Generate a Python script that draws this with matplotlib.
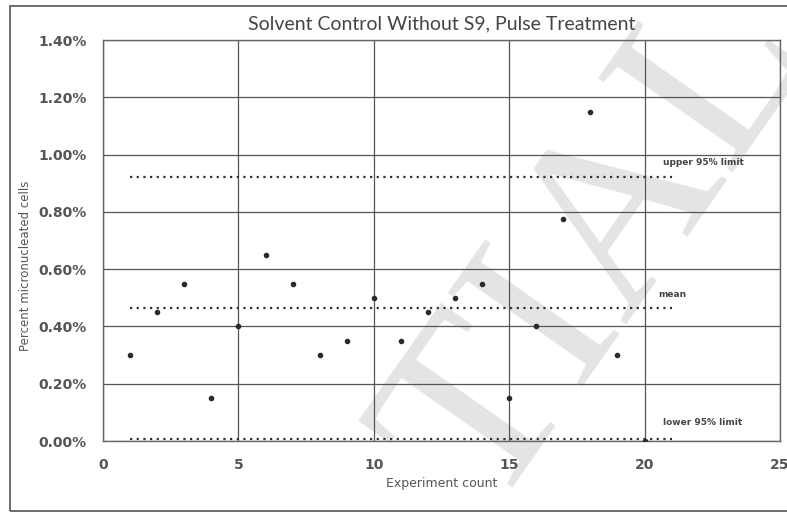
import numpy as np
from matplotlib import pyplot as plt
from matplotlib.patches import Rectangle
from matplotlib.ticker import FuncFormatter

# Experiment data (percent micronucleated cells)
experiments = [1, 2, 3, 4, 5, 6, 7, 8, 9, 10,
               11, 12, 13, 14, 15, 16, 17, 18, 19, 20]
percent_mn = [0.30, 0.45, 0.55, 0.15, 0.40, 0.65, 0.55, 0.30, 0.35, 0.50,
              0.35, 0.45, 0.50, 0.55, 0.15, 0.40, 0.775, 1.15, 0.30, 0.00]

limit_x = [1, 21]
upper_limit = 0.921
mean_value = 0.464
lower_limit = 0.007

fig = plt.figure(figsize=(7.87, 5.14), dpi=100)
ax = fig.add_axes([0.131, 0.142, 0.860, 0.780])

# faint watermark behind everything
fig.text(0.765, 0.52, "TIAL", fontsize=180, family="Liberation Serif",
         color="#e4e4e4", rotation=55, ha="center", va="center",
         rotation_mode="anchor", zorder=-1)
ax.set_facecolor("none")

# outer border of the chart area
fig.patches.append(Rectangle((0.013, 0.006), 0.99, 0.983,
                             transform=fig.transFigure, fill=False,
                             edgecolor="#555555", lw=1.2))

ax.plot(limit_x, [upper_limit] * 2, ls=(0, (1, 2)), color="#333333", lw=1.6)
ax.plot(limit_x, [mean_value] * 2, ls=(0, (1, 2)), color="#333333", lw=1.6)
ax.plot(limit_x, [lower_limit] * 2, ls=(0, (1, 2)), color="#333333", lw=1.6)
ax.scatter(experiments, percent_mn, s=9, color="#2b2b2b", zorder=3)

ax.text(20.68, 0.974, "upper 95% limit", fontsize=6.5, color="#444444",
        fontweight="bold", va="center")
ax.text(20.5, 0.51, "mean", fontsize=6.5, color="#444444",
        fontweight="bold", va="center")
ax.text(20.68, 0.063, "lower 95% limit", fontsize=6.5, color="#444444",
        fontweight="bold", va="center")

ax.set_xlim(0, 25)
ax.set_ylim(0, 1.4)
ax.set_xticks([0, 5, 10, 15, 20, 25])
ax.set_yticks(np.arange(0, 1.41, 0.2))
ax.yaxis.set_major_formatter(FuncFormatter(lambda v, p: "%.2f%%" % v))
ax.grid(True, color="#555555", lw=0.9)
ax.set_axisbelow(True)
ax.tick_params(length=0, labelsize=10, labelcolor="#555555", pad=12)
for lab in ax.get_xticklabels() + ax.get_yticklabels():
    lab.set_fontweight("bold")
for s in ax.spines.values():
    s.set_color("#666666")
    s.set_linewidth(1.0)

ax.set_title("Solvent Control Without S9, Pulse Treatment", fontsize=14,
             family="Lato", color="#444444", pad=8)
ax.set_xlabel("Experiment count", fontsize=9, color="#555555", labelpad=4)
ax.set_ylabel("Percent micronucleated cells", fontsize=8.5, color="#555555")
ax.yaxis.set_label_coords(-0.105, 0.436)

fig.savefig("out.png", dpi=100)
